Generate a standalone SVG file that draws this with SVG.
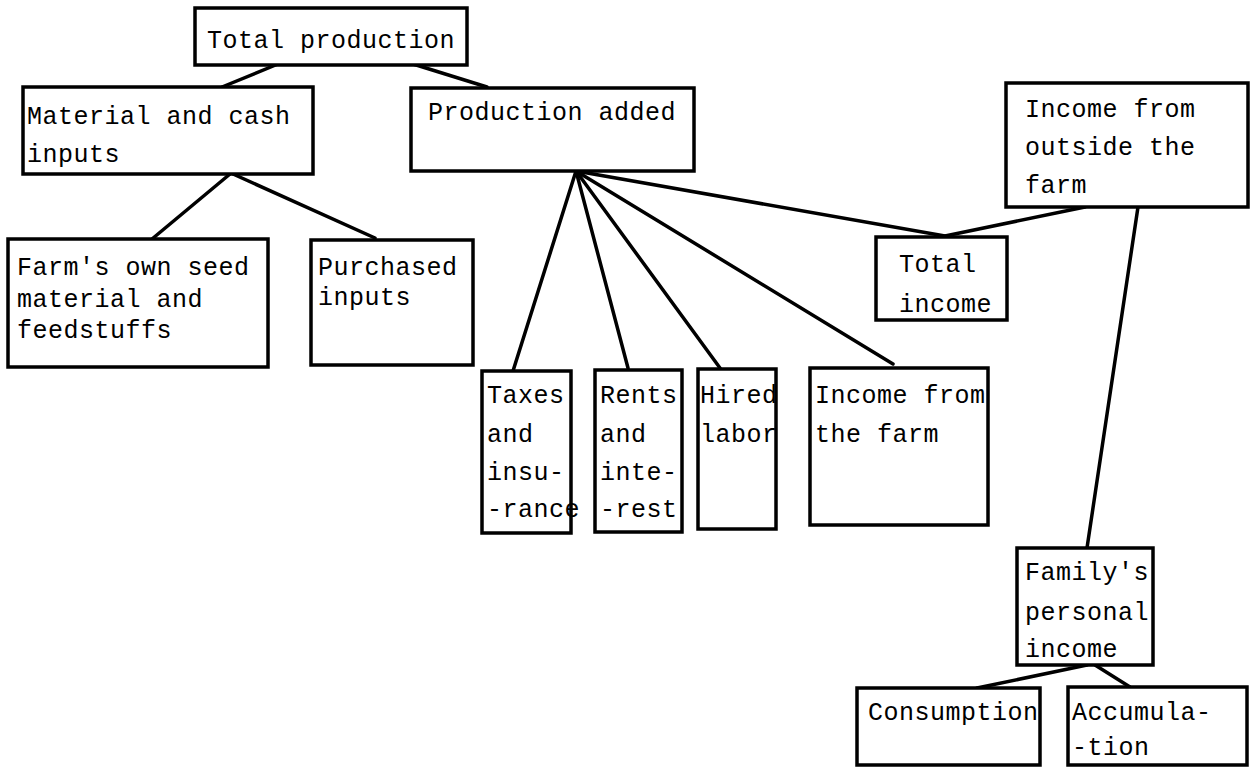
<svg xmlns="http://www.w3.org/2000/svg" width="1250" height="768" viewBox="0 0 1250 768">
<style>
.box{fill:#fff;stroke:#000;stroke-width:3.5;stroke-linejoin:miter}
.t{font-family:"Liberation Mono","Courier New",monospace;font-size:25px;letter-spacing:0.5px;fill:#000}
.c{stroke:#000;stroke-width:3.5;stroke-linecap:round;fill:none}
</style>
<rect width="1250" height="768" fill="#fff"/>
<g id="connectors">
<line class="c" x1="278" y1="64" x2="222" y2="87"/>
<line class="c" x1="413" y1="64" x2="487" y2="87"/>
<line class="c" x1="230" y1="174" x2="152" y2="239"/>
<line class="c" x1="233" y1="174" x2="375" y2="238"/>
<line class="c" x1="576" y1="171" x2="513" y2="371"/>
<line class="c" x1="576" y1="171" x2="628" y2="368"/>
<line class="c" x1="576" y1="171" x2="720" y2="368"/>
<line class="c" x1="576" y1="171" x2="893" y2="364"/>
<line class="c" x1="576" y1="171" x2="945" y2="236"/>
<line class="c" x1="1085" y1="207" x2="945" y2="236"/>
<line class="c" x1="1138" y1="207" x2="1087" y2="548"/>
<line class="c" x1="1087" y1="665" x2="977" y2="688"/>
<line class="c" x1="1095" y1="665" x2="1130" y2="687"/>
</g>
<g id="total-production">
<rect class="box" x="195" y="8" width="272" height="57"/>
<text class="t" x="207" y="48">Total production</text>
</g>
<g id="material-cash-inputs">
<rect class="box" x="23" y="87" width="290" height="87"/>
<text class="t" x="27" y="124">Material and cash</text>
<text class="t" x="27" y="162">inputs</text>
</g>
<g id="production-added">
<rect class="box" x="411" y="88" width="283" height="83"/>
<text class="t" x="428" y="120">Production added</text>
</g>
<g id="farm-own-seed">
<rect class="box" x="8" y="239" width="260" height="128"/>
<text class="t" x="17" y="275">Farm's own seed</text>
<text class="t" x="17" y="307">material and</text>
<text class="t" x="17" y="338">feedstuffs</text>
</g>
<g id="purchased-inputs">
<rect class="box" x="311" y="240" width="162" height="125"/>
<text class="t" x="318" y="275">Purchased</text>
<text class="t" x="318" y="305">inputs</text>
</g>
<g id="taxes">
<rect class="box" x="482" y="371" width="89" height="162"/>
<text class="t" x="487" y="403">Taxes</text>
<text class="t" x="487" y="442">and</text>
<text class="t" x="487" y="480">insu-</text>
<text class="t" x="487" y="517">-rance</text>
</g>
<g id="rents">
<rect class="box" x="595" y="370" width="87" height="162"/>
<text class="t" x="600" y="403">Rents</text>
<text class="t" x="600" y="442">and</text>
<text class="t" x="600" y="480">inte-</text>
<text class="t" x="600" y="517">-rest</text>
</g>
<g id="hired-labor">
<rect class="box" x="698" y="369" width="78" height="160"/>
<text class="t" x="700" y="403">Hired</text>
<text class="t" x="700" y="442">labor</text>
</g>
<g id="income-from-farm">
<rect class="box" x="810" y="368" width="178" height="157"/>
<text class="t" x="815" y="403">Income from</text>
<text class="t" x="815" y="442">the farm</text>
</g>
<g id="total-income">
<rect class="box" x="876" y="237" width="131" height="83"/>
<text class="t" x="899" y="272">Total</text>
<text class="t" x="899" y="312">income</text>
</g>
<g id="income-outside">
<rect class="box" x="1006" y="83" width="242" height="124"/>
<text class="t" x="1025" y="117">Income from</text>
<text class="t" x="1025" y="155">outside the</text>
<text class="t" x="1025" y="193">farm</text>
</g>
<g id="family-income">
<rect class="box" x="1017" y="548" width="136" height="117"/>
<text class="t" x="1025" y="580">Family's</text>
<text class="t" x="1025" y="620">personal</text>
<text class="t" x="1025" y="657">income</text>
</g>
<g id="consumption">
<rect class="box" x="857" y="688" width="183" height="77"/>
<text class="t" x="868" y="720">Consumption</text>
</g>
<g id="accumulation">
<rect class="box" x="1068" y="687" width="179" height="78"/>
<text class="t" x="1072" y="720">Accumula-</text>
<text class="t" x="1072" y="755">-tion</text>
</g>
</svg>
